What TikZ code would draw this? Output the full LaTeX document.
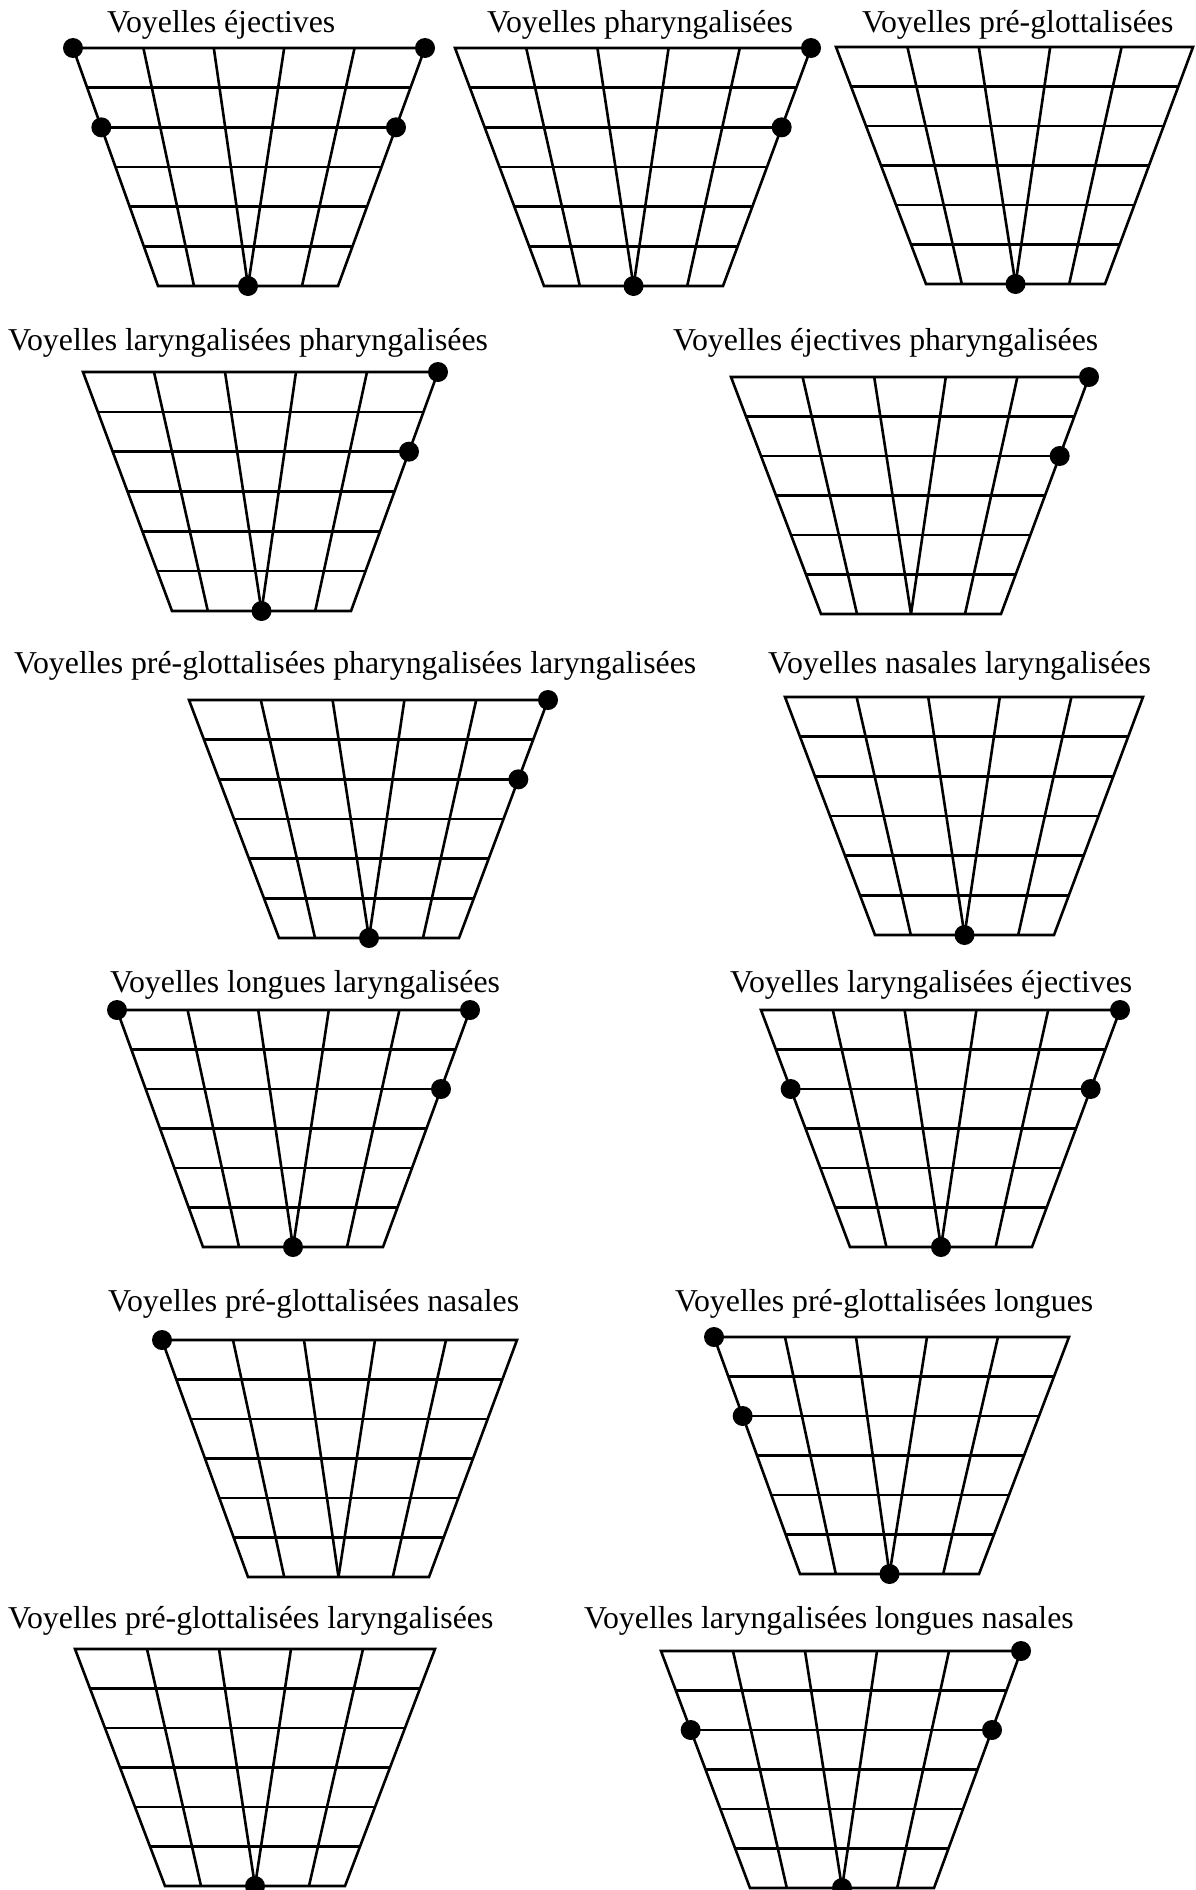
\documentclass[tikz,border=0pt]{standalone}
\usepackage{fontspec}
\setmainfont{Liberation Serif}
\usetikzlibrary{calc}
\tikzset{
  gridline/.style={line width=2.6pt, draw=black},
  charttitle/.style={anchor=base west, inner sep=0pt, font=\fontsize{31.8}{38}\selectfont},
  vdot/.style={fill=black}
}
% #1 name, #2 xTL, #3 xTR, #4 yT, #5 xBL, #6 xBR, #7 yB, #8 dots
\newcommand\vowelchart[8]{%
  \coordinate (#1-TL) at (#2,#4);
  \coordinate (#1-TR) at (#3,#4);
  \coordinate (#1-BL) at (#5,#7);
  \coordinate (#1-BR) at (#6,#7);
  \coordinate (#1-L2) at ($(#1-TL)!1/3!(#1-BL)$);
  \coordinate (#1-R2) at ($(#1-TR)!1/3!(#1-BR)$);
  \coordinate (#1-B) at ($(#1-BL)!0.5!(#1-BR)$);
  \foreach \j in {1,...,5}
    \draw[gridline] ($(#1-TL)!\j/6!(#1-BL)$) -- ($(#1-TR)!\j/6!(#1-BR)$);
  \foreach \i/\b in {1/0.2,2/0.5,3/0.5,4/0.8}
    \draw[gridline] ($(#1-TL)!\i/5!(#1-TR)$) -- ($(#1-BL)!\b!(#1-BR)$);
  \draw[gridline] (#1-TL) -- (#1-TR) -- (#1-BR) -- (#1-BL) -- cycle;
  \foreach \d in {#8} \fill[vdot] (#1-\d) circle (10pt);
}
\begin{document}
\begin{tikzpicture}[x=1pt,y=-1pt]
\useasboundingbox (0,0) rectangle (1196,1890);

% Row 1
\node[charttitle] (t1) at (107,32) {Voyelles éjectives};
\vowelchart{c1}{73}{425}{48}{158}{338}{286}{TL,TR,L2,R2,B}
\node[charttitle] (t2) at (487,32) {Voyelles pharyngalisées};
\vowelchart{c2}{455}{811}{48}{544}{723}{286}{TR,R2,B}
\node[charttitle] (t3) at (862,32) {Voyelles pré-glottalisées};
\vowelchart{c3}{836}{1193}{47}{926}{1105}{284}{B}

% Row 2
\node[charttitle] (t4) at (8,350) {Voyelles laryngalisées pharyngalisées};
\vowelchart{c4}{83}{438}{372}{172}{351}{611}{TR,R2,B}
\node[charttitle] (t5) at (673,350) {Voyelles éjectives pharyngalisées};
\vowelchart{c5}{731}{1089}{377}{821}{1001}{614}{TR,R2}

% Row 3
\node[charttitle] (t6) at (14,673) {Voyelles pré-glottalisées pharyngalisées laryngalisées};
\vowelchart{c6}{189}{548}{700}{279}{459}{938}{TR,R2,B}
\node[charttitle] (t7) at (768,673) {Voyelles nasales laryngalisées};
\vowelchart{c7}{785}{1143}{697}{875}{1054}{935}{B}

% Row 4
\node[charttitle] (t8) at (110,992) {Voyelles longues laryngalisées};
\vowelchart{c8}{117}{470}{1010}{203}{383}{1247}{TL,TR,R2,B}
\node[charttitle] (t9) at (730,992) {Voyelles laryngalisées éjectives};
\vowelchart{c9}{761}{1120}{1010}{850}{1032}{1247}{TR,L2,R2,B}

% Row 5
\node[charttitle] (t10) at (108,1311) {Voyelles pré-glottalisées nasales};
\vowelchart{c10}{162}{517}{1340}{248}{429}{1577}{TL}
\node[charttitle] (t11) at (675,1311) {Voyelles pré-glottalisées longues};
\vowelchart{c11}{714}{1069}{1337}{800}{979}{1574}{TL,L2,B}

% Row 6
\node[charttitle] (t12) at (8,1628) {Voyelles pré-glottalisées laryngalisées};
\vowelchart{c12}{75}{435}{1649}{165}{345}{1886}{B}
\node[charttitle] (t13) at (584,1628) {Voyelles laryngalisées longues nasales};
\vowelchart{c13}{661}{1021}{1651}{750}{934}{1888}{TR,L2,R2,B}
\end{tikzpicture}
\end{document}
